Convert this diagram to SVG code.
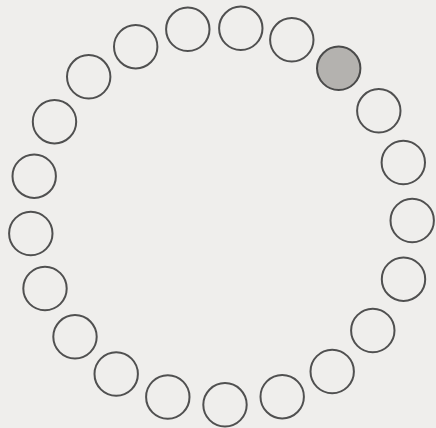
<svg xmlns="http://www.w3.org/2000/svg" width="436" height="428" viewBox="0 0 436 428">
<style>
.n{fill:none;stroke:#505050;stroke-width:2}
.f{fill:#b4b2af;stroke:#4a4a4a;stroke-width:2}
</style>
<rect width="436" height="428" fill="#efeeec"/>
<g id="connectors"></g>
<g id="n1"><circle class="n" cx="135.7" cy="46.7" r="21.7"/></g>
<g id="n2"><circle class="n" cx="187.8" cy="29.3" r="21.7"/></g>
<g id="n3"><circle class="n" cx="240.8" cy="28.3" r="21.7"/></g>
<g id="n4"><circle class="n" cx="291.8" cy="39.8" r="21.7"/></g>
<g id="n5"><circle class="f" cx="338.7" cy="68.3" r="21.7"/></g>
<g id="n6"><circle class="n" cx="378.8" cy="110.8" r="21.7"/></g>
<g id="n7"><circle class="n" cx="403.3" cy="162.5" r="21.7"/></g>
<g id="n8"><circle class="n" cx="412.2" cy="220.5" r="21.7"/></g>
<g id="n9"><circle class="n" cx="403.5" cy="279.2" r="21.7"/></g>
<g id="n10"><circle class="n" cx="372.8" cy="330.5" r="21.7"/></g>
<g id="n11"><circle class="n" cx="332.2" cy="371.5" r="21.7"/></g>
<g id="n12"><circle class="n" cx="282.2" cy="396.7" r="21.7"/></g>
<g id="n13"><circle class="n" cx="225" cy="404.8" r="21.7"/></g>
<g id="n14"><circle class="n" cx="167.8" cy="397" r="21.7"/></g>
<g id="n15"><circle class="n" cx="116.2" cy="374" r="21.7"/></g>
<g id="n16"><circle class="n" cx="75" cy="336.8" r="21.7"/></g>
<g id="n17"><circle class="n" cx="45" cy="288.5" r="21.7"/></g>
<g id="n18"><circle class="n" cx="30.8" cy="233.5" r="21.7"/></g>
<g id="n19"><circle class="n" cx="34.2" cy="176.2" r="21.7"/></g>
<g id="n20"><circle class="n" cx="54.5" cy="121.7" r="21.7"/></g>
<g id="n21"><circle class="n" cx="88.7" cy="76.8" r="21.7"/></g>
</svg>
